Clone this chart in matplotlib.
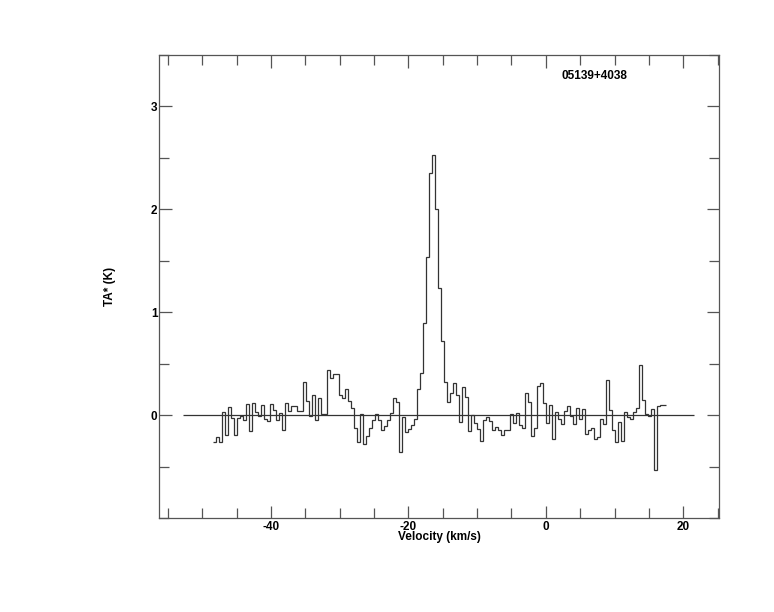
import numpy as np
import matplotlib.pyplot as plt
from matplotlib.ticker import MultipleLocator, FixedLocator

# spectrum 05139+4038: antenna temperature per channel (K)
source_name = "05139+4038"
v_first = -48.39      # left edge of first channel (km/s)
channel_width = 0.436 # km/s
ta = [
    -0.265, -0.21, -0.265, 0.035, -0.19, 0.075, -0.03, -0.19, -0.03, -0.005,
    -0.05, 0.11, -0.15, 0.12, 0.035, -0.005, 0.10, -0.04, -0.06, 0.11,
    0.045, -0.05, 0.02, -0.14, 0.113, 0.036, 0.084, 0.084, 0.036, 0.036,
    0.317, 0.133, -0.013, 0.2, -0.052, 0.162, 0.006, 0.006, 0.443, 0.356,
    0.395, 0.395, 0.2, 0.162, 0.249, 0.133, 0.065, -0.129, -0.265, 0.006,
    -0.285, -0.207, -0.129, -0.052, 0.006, -0.052, -0.149, -0.110, -0.052, 0.016,
    0.162, 0.123, -0.362, -0.023, -0.168, -0.139, -0.1, -0.042, 0.249, 0.405,
    0.9, 1.54, 2.35, 2.53, 2.0, 1.24, 0.725, 0.317, 0.123, 0.211,
    0.308, 0.2, -0.071, 0.269, 0.172, -0.158, -0.003, -0.081, -0.139, -0.255,
    -0.052, -0.023, -0.061, -0.149, -0.120, -0.149, -0.197, -0.149, -0.149, 0.006,
    -0.081, 0.016, -0.1, -0.129, 0.211, 0.13, -0.207, -0.129, 0.279, 0.308,
    0.113, -0.081, 0.094, -0.236, 0.026, -0.042, -0.090, 0.036, 0.084, -0.013,
    -0.090, 0.065, -0.042, 0.055, -0.187, -0.149, -0.129, -0.236, -0.217, -0.042,
    -0.09, 0.337, 0.046, -0.149, -0.265, -0.071, -0.255, 0.026, -0.023, -0.042,
    0.026, 0.065, 0.483, 0.143, 0.006, -0.013, 0.055, -0.537, 0.084, 0.094,
    0.1,
]
baseline_range = (-52.8, 21.5)
x_ticks = [-40, -20, 0, 20]
y_ticks = [0, 1, 2, 3]

edges = v_first + channel_width * np.arange(len(ta) + 1)

plt.rcParams['font.family'] = ['Liberation Sans', 'DejaVu Sans']
plt.rcParams['axes.unicode_minus'] = False

fig = plt.figure(figsize=(7.74, 6.12), dpi=100)
ax = fig.add_axes([0.2054, 0.1536, 0.7235, 0.7565])

ax.hlines(0, *baseline_range, color='#333333', lw=0.9)
ax.stairs(ta, edges, color='#333333', lw=0.9, baseline=None)

ax.set_xlim(-56.3, 25.2)
ax.set_ylim(-1.0, 3.5)

ax.xaxis.set_major_locator(FixedLocator(x_ticks))
ax.xaxis.set_minor_locator(MultipleLocator(5))
ax.yaxis.set_major_locator(FixedLocator(y_ticks))
ax.yaxis.set_minor_locator(MultipleLocator(0.5))
ax.tick_params(which='both', direction='in', top=True, right=True,
               color='#555555', width=0.9, labelsize=8.5)
ax.tick_params(which='major', length=9)
ax.tick_params(which='minor', length=7)
ax.tick_params(axis='x', pad=2)
ax.tick_params(axis='y', pad=1)
for lab in ax.get_xticklabels() + ax.get_yticklabels():
    lab.set_fontweight('bold')
for sp in ax.spines.values():
    sp.set_color('#555555')
    sp.set_linewidth(0.9)

ax.set_xlabel('Velocity (km/s)', fontsize=8.5, fontweight='bold', labelpad=-1)
ax.set_ylabel('TA* (K)', fontsize=8.5, fontweight='bold', labelpad=25)
ax.text(0.777, 0.955, source_name, transform=ax.transAxes, fontsize=8.5,
        fontweight='bold', ha='center', va='center')

fig.savefig('out.png', dpi=100)
